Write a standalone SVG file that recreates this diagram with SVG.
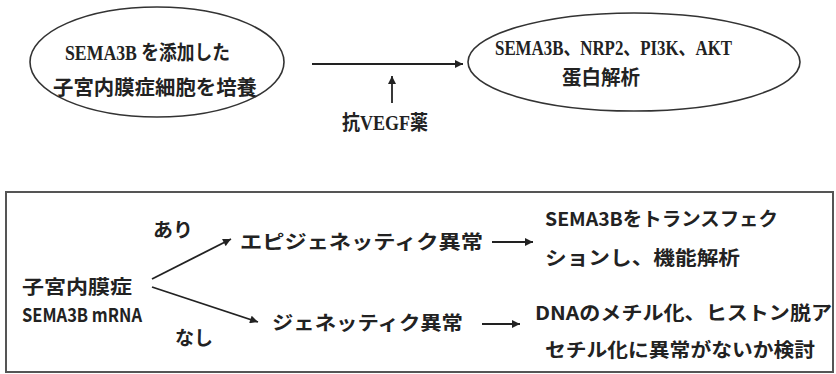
<svg xmlns="http://www.w3.org/2000/svg" width="836" height="374" viewBox="0 0 836 374">
<defs>
<style>
.top{font-family:"Liberation Serif","Noto Sans CJK JP",serif;font-weight:bold;font-size:20px;fill:#222}
.bt{font-family:"Noto Sans CJK JP","Noto Sans",sans-serif;font-weight:bold;font-size:19px;fill:#222}
.ln{stroke:#222;stroke-width:1.8;fill:none}
.el{stroke:#333;stroke-width:1.6;fill:#fff}
</style>
<marker id="ah" viewBox="0 0 10 10" refX="10" refY="5" markerWidth="10" markerHeight="8" markerUnits="userSpaceOnUse" orient="auto">
<path d="M0,0 L10,5 L0,10 z" fill="#222"/>
</marker>
</defs>
<rect width="836" height="374" fill="#fff"/>
<g id="node-culture">
<ellipse class="el" cx="157" cy="62" rx="127" ry="55"/>
<text class="top" x="65" y="60" textLength="165" lengthAdjust="spacingAndGlyphs">SEMA3B を添加した</text>
<text class="top" x="53" y="95" textLength="204" lengthAdjust="spacingAndGlyphs">子宮内膜症細胞を培養</text>
</g>
<g id="node-analysis">
<ellipse class="el" cx="634" cy="62" rx="166" ry="49"/>
<text class="top" x="495" y="55" textLength="237" lengthAdjust="spacingAndGlyphs">SEMA3B、NRP2、PI3K、AKT</text>
<text class="top" x="562" y="85" textLength="78" lengthAdjust="spacingAndGlyphs">蛋白解析</text>
</g>
<g id="node-antivegf">
<text class="top" x="342" y="130" textLength="86" lengthAdjust="spacingAndGlyphs">抗VEGF薬</text>
</g>
<g id="frame">
<rect x="6" y="192" width="827" height="180" fill="none" stroke="#555" stroke-width="2"/>
</g>
<g id="node-endometriosis">
<text class="bt" x="22" y="294" textLength="110" lengthAdjust="spacingAndGlyphs">子宮内膜症</text>
<text class="bt" x="22" y="322" font-size="21" font-weight="normal" textLength="120" lengthAdjust="spacingAndGlyphs">SEMA3B mRNA</text>
</g>
<g id="label-ari"><text class="bt" x="153" y="237" textLength="40" lengthAdjust="spacingAndGlyphs">あり</text></g>
<g id="label-nashi"><text class="bt" x="175" y="345" textLength="38" lengthAdjust="spacingAndGlyphs">なし</text></g>
<g id="node-epi">
<text class="bt" x="240" y="249" textLength="243" lengthAdjust="spacingAndGlyphs">エピジェネッティク異常</text>
</g>
<g id="node-gen">
<text class="bt" x="272" y="330" textLength="191" lengthAdjust="spacingAndGlyphs">ジェネッティク異常</text>
</g>
<g id="node-transfect">
<text class="bt" x="545" y="226" textLength="233" lengthAdjust="spacingAndGlyphs">SEMA3Bをトランスフェク</text>
<text class="bt" x="545" y="265" textLength="195" lengthAdjust="spacingAndGlyphs">ションし、機能解析</text>
</g>
<g id="node-dna">
<text class="bt" x="535" y="320" textLength="297" lengthAdjust="spacingAndGlyphs">DNAのメチル化、ヒストン脱ア</text>
<text class="bt" x="545" y="357" textLength="270" lengthAdjust="spacingAndGlyphs">セチル化に異常がないか検討</text>
</g>
<g id="connectors">
<line class="ln" x1="312" y1="64" x2="463" y2="64" marker-end="url(#ah)"/>
<line class="ln" x1="392" y1="103" x2="392" y2="76" marker-end="url(#ah)"/>
<line class="ln" x1="152" y1="279" x2="231" y2="239" marker-end="url(#ah)"/>
<line class="ln" x1="152" y1="287" x2="258" y2="322" marker-end="url(#ah)"/>
<line class="ln" x1="492" y1="242" x2="533" y2="242" marker-end="url(#ah)"/>
<line class="ln" x1="482" y1="324" x2="520" y2="324" marker-end="url(#ah)"/>
</g>
</svg>
